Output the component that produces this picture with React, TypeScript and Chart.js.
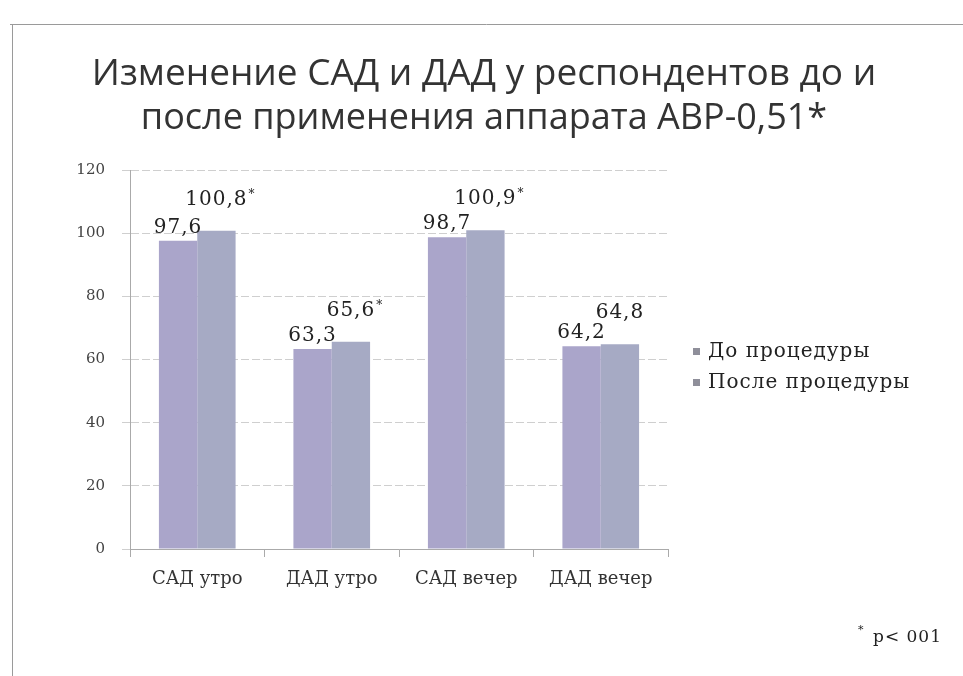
import React, { useEffect, useRef } from "react";
import { Chart, registerables } from "chart.js";

Chart.register(...registerables);

const categories = ["САД утро", "ДАД утро", "САД вечер", "ДАД вечер"];
const seriesNames = ["До процедуры", "После процедуры"];
const beforeValues = [97.6, 63.3, 98.7, 64.2];
const afterValues = [100.8, 65.6, 100.9, 64.8];
const beforeLabels = ["97,6", "63,3", "98,7", "64,2"];
const afterLabels = ["100,8", "65,6", "100,9", "64,8"];
const afterSignificant = [true, true, true, false];
const yTicks = [0, 20, 40, 60, 80, 100, 120];
const titleLines = ["Изменение САД и ДАД у респондентов до и", "после применения аппарата АВР-0,51*"];
const footnote = "p< 001";

const SERIF = "'DejaVu Serif', 'Liberation Serif', serif";
const SANS = "'Open Sans', 'Noto Sans', sans-serif";
const COLORS = ["#aaa5ca", "#a6aac4"];

const decorPlugin = {
  id: "decor",
  beforeDraw(chart: any) {
    const ctx = chart.ctx;
    ctx.save();
    ctx.fillStyle = "#ffffff";
    ctx.fillRect(0, 0, chart.width, chart.height);
    ctx.strokeStyle = "#9a9a9a";
    ctx.lineWidth = 1;
    ctx.beginPath();
    ctx.moveTo(10, 24.5);
    ctx.lineTo(963, 24.5);
    ctx.moveTo(12.5, 24);
    ctx.lineTo(12.5, 676);
    ctx.stroke();
    ctx.restore();
  },
  afterDatasetsDraw(chart: any) {
    const ctx = chart.ctx;
    ctx.save();
    // data labels
    const labelSets = [beforeLabels, afterLabels];
    const offsets = [8, 26];
    chart.data.datasets.forEach((_: any, di: number) => {
      const meta = chart.getDatasetMeta(di);
      meta.data.forEach((el: any, i: number) => {
        const txt = labelSets[di][i];
        ctx.font = `20px ${SERIF}`;
        ctx.letterSpacing = "1px";
        ctx.fillStyle = "#222";
        ctx.textAlign = "center";
        ctx.textBaseline = "alphabetic";
        const y = el.y - offsets[di];
        ctx.fillText(txt, el.x, y);
        if (di === 1 && afterSignificant[i]) {
          const w = ctx.measureText(txt).width;
          ctx.font = `12px ${SERIF}`;
          ctx.textAlign = "left";
          ctx.fillText("*", el.x + w / 2 + 1, y - 7);
        }
      });
    });
    ctx.letterSpacing = "0px";
    // title
    ctx.fillStyle = "#333";
    ctx.font = `37px ${SANS}`;
    ctx.textAlign = "center";
    ctx.fillText(titleLines[0], 484, 85);
    ctx.font = `36px ${SANS}`;
    ctx.fillText(titleLines[1], 484, 129);
    // legend
    ctx.font = `20px ${SERIF}`;
    ctx.letterSpacing = "1px";
    ctx.textAlign = "left";
    ctx.textBaseline = "middle";
    seriesNames.forEach((name, i) => {
      const y = 352 + i * 31;
      ctx.fillStyle = "#8f8f9a";
      ctx.fillRect(693, y - 4, 7, 7);
      ctx.fillStyle = "#222";
      ctx.fillText(name, 708, y);
    });
    // footnote
    ctx.letterSpacing = "0px";
    ctx.font = `11px ${SERIF}`;
    ctx.fillText("*", 858, 630);
    ctx.font = `17px ${SERIF}`;
    ctx.letterSpacing = "1px";
    ctx.fillText(footnote, 873, 638);
    ctx.restore();
  },
};

export default function App() {
  const ref = useRef<HTMLCanvasElement | null>(null);
  useEffect(() => {
    if (!ref.current) return;
    const chart = new Chart(ref.current, {
      type: "bar",
      data: {
        labels: categories,
        datasets: [
          { label: seriesNames[0], data: beforeValues, backgroundColor: COLORS[0], barPercentage: 1, categoryPercentage: 0.57 },
          { label: seriesNames[1], data: afterValues, backgroundColor: COLORS[1], barPercentage: 1, categoryPercentage: 0.57 },
        ],
      },
      options: {
        responsive: false,
        animation: false,
        layout: { padding: { top: 170, right: 295, bottom: 0, left: 0 } },
        plugins: { legend: { display: false }, title: { display: false }, tooltip: { enabled: false } },
        scales: {
          x: {
            grid: { display: true, drawOnChartArea: false, offset: true, tickLength: 8, color: "#aaa" },
            border: { display: true, color: "#aaa" },
            ticks: { font: { family: SERIF, size: 18 }, color: "#333", padding: 12 },
            afterFit: (s: any) => { s.height = 127; },
          },
          y: {
            min: 0,
            max: 120,
            afterBuildTicks: (s: any) => { s.ticks = yTicks.map((v) => ({ value: v })); },
            grid: { color: "#cfcfcf", tickLength: 8 },
            border: { display: true, color: "#aaa", dash: [8, 3] },
            ticks: { font: { family: SERIF, size: 15 }, color: "#444", padding: 17 },
            afterFit: (s: any) => { s.width = 130; },
          },
        },
      },
      plugins: [decorPlugin],
    });
    return () => chart.destroy();
  }, []);
  return (
    <div style={{ position: "absolute", left: 0, top: 0, width: 963, height: 676 }}>
      <canvas ref={ref} width={963} height={676} style={{ display: "block" }} />
    </div>
  );
}
